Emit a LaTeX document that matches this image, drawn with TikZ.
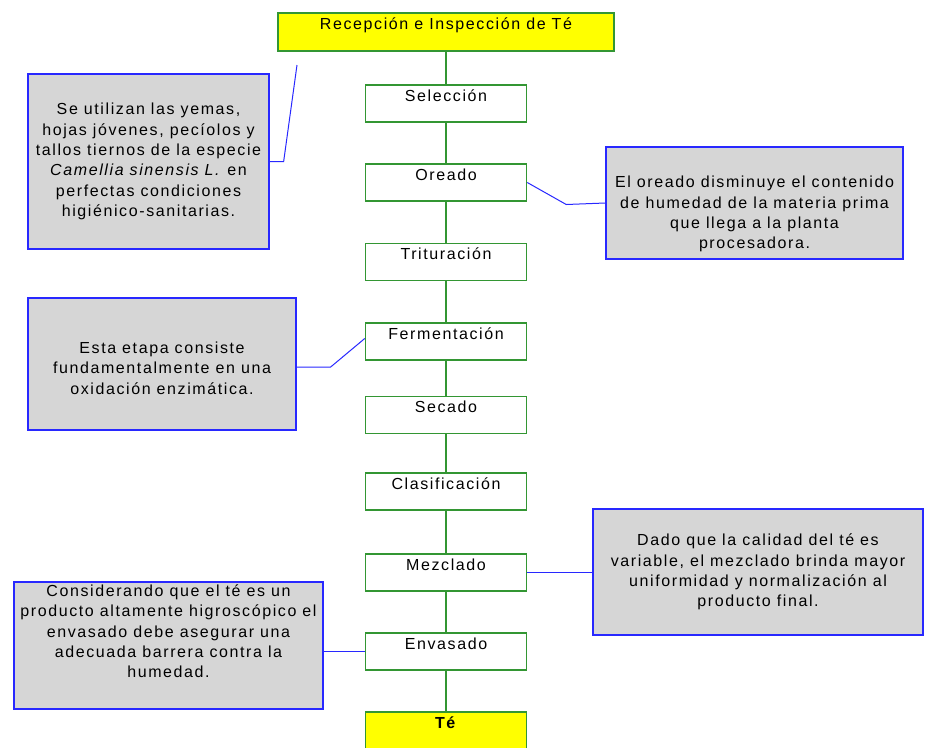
\documentclass[tikz,border=0pt]{standalone}
\usepackage{fontspec}
\setmainfont{Liberation Sans}[LetterSpace=10]
\definecolor{verdepaso}{RGB}{51,150,51}
\definecolor{azulnota}{RGB}{40,40,255}
\definecolor{grisnota}{RGB}{214,214,214}
\definecolor{amarillo}{RGB}{255,255,0}
\tikzset{
  paso/.style={draw=verdepaso, line width=1.5pt, fill=white, minimum width=161pt,
    minimum height=37pt, inner ysep=3pt, text height=13pt, text depth=18pt},
  extremo/.style={paso, fill=amarillo},
  nota/.style={draw=azulnota, line width=1.3pt, fill=grisnota, align=center},
  linea/.style={draw=verdepaso, line width=1.2pt},
  enlace/.style={draw=azulnota, line width=1pt}
}
\begin{document}
\begin{tikzpicture}[x=1pt, y=-1pt, font=\fontsize{16}{20.3}\selectfont]
    \useasboundingbox[fill=white] (0,0) rectangle (925,747);
    % Etapas del proceso
    \node[extremo, minimum width=336pt, minimum height=38pt] (recepcion) at (446,32) {Recepción e Inspección de Té};
    \node[paso] (seleccion) at (446,103.5) {Selección};
    \node[paso] (oreado) at (446,182.5) {Oreado};
    \node[paso] (trituracion) at (446,262) {Trituración};
    \node[paso] (fermentacion) at (446,341.5) {Fermentación};
    \node[paso] (secado) at (446,415) {Secado};
    \node[paso] (clasificacion) at (446,491.5) {Clasificación};
    \node[paso] (mezclado) at (446,572.5) {Mezclado};
    \node[paso] (envasado) at (446,651.5) {Envasado};
    \node[extremo] (te) at (446,730.5) {\textbf{Té}};
    \foreach \a/\b in {recepcion/seleccion, seleccion/oreado, oreado/trituracion,
        trituracion/fermentacion, fermentacion/secado, secado/clasificacion,
        clasificacion/mezclado, mezclado/envasado, envasado/te}
      \draw[linea] (\a) -- (\b);
    % Notas
    \node[nota, minimum width=241pt, minimum height=175pt] (notaEspecie) at (148.5,161.5)
      {Se utilizan las yemas,\\ hojas jóvenes, pecíolos y\\ tallos tiernos de la especie\\
       \textit{Camellia sinensis L.} en\\ perfectas condiciones\\ higiénico-sanitarias.};
    \node[nota, minimum width=297pt, minimum height=112pt] (notaOreado) at (754.5,203)
      {\rule{0pt}{34pt}El oreado disminuye el contenido\\ de humedad de la materia prima\\
       que llega a la planta\\ procesadora.};
    \node[nota, minimum width=268pt, minimum height=132pt] (notaFermentacion) at (162,364)
      {\rule{0pt}{20pt}Esta etapa consiste\\ fundamentalmente en una\\ oxidación enzimática.};
    \node[nota, minimum width=330pt, minimum height=126pt] (notaMezclado) at (758,572)
      {Dado que la calidad del té es\\ variable, el mezclado brinda mayor\\
       uniformidad y normalización al\\ producto final.};
    \node[nota, minimum width=309pt, minimum height=127pt, inner sep=0pt] (notaEnvasado) at (168.5,645.5)
      {Considerando que el té es un\\ producto altamente higroscópico el\\
       envasado debe asegurar una\\ adecuada barrera contra la\\ humedad.\\[8pt]};
    % Enlaces de las notas
    \coordinate (sueltoEspecie) at (297,65);
    \draw[enlace] (notaEspecie.east) -- ++(14,0) -- (sueltoEspecie);
    \draw[enlace] (oreado.east) -- ++(39,22) -- (notaOreado.west);
    \draw[enlace] ([yshift=-3pt]notaFermentacion.east) -- ++(34,0) -- ([yshift=3pt]fermentacion.west);
    \draw[enlace] (mezclado.east) -- (mezclado.east -| notaMezclado.west);
    \draw[enlace] (envasado.west) -- (envasado.west -| notaEnvasado.east);
\end{tikzpicture}
\end{document}
